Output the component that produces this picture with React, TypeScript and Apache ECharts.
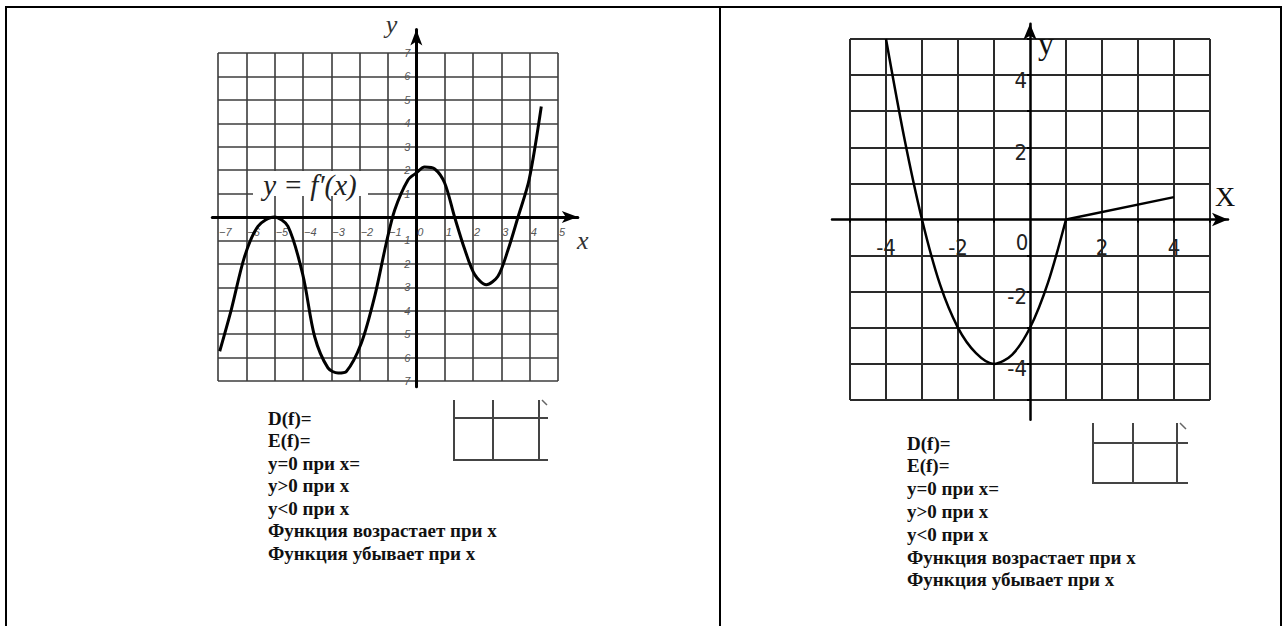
import { useEffect, useRef } from 'react';
import * as echarts from 'echarts';

// ---- Left graph: y = f'(x) ----
const derivX = [-6.94, -6.53, -6.06, -5.59, -5.02, -4.53, -4.0, -3.59, -3.12, -2.76, -2.47, -1.94, -1.47, -1.06, -0.76, -0.29, 0.0, 0.29, 0.65, 1.0, 1.35, 1.71, 2.06, 2.47, 2.88, 3.24, 3.59, 3.98, 4.41];
const derivY = [-5.73, -3.95, -1.68, -0.4, 0, -0.4, -2.5, -5.1, -6.44, -6.66, -6.59, -5.38, -3.39, -1.11, 0.31, 1.59, 1.88, 2.13, 2.05, 1.45, 0, -1.39, -2.46, -2.89, -2.53, -1.39, 0, 1.59, 4.72];
const leftXRange = [-7, 5];
const leftYRange = [-7, 7];
const leftXTicks = [-7, -6, -5, -4, -3, -2, -1, 0, 1, 2, 3, 4, 5];
const leftYTicks = [-7, -6, -5, -4, -3, -2, -1, 1, 2, 3, 4, 5, 6, 7];

// ---- Right graph: parabola part + ray ----
const parabX = [-4, -3.5, -3, -2.5, -2, -1.5, -1, -0.5, 0, 0.5, 1];
const parabY = [5, 2.3, 0, -1.8, -3, -3.7, -4, -3.75, -3, -1.75, 0];
const rayX = [1, 4];
const rayY = [0, 0.62];
const rightXRange = [-5, 5];
const rightYRange = [-5, 5];
const rightXTicks = [-4, -2, 0, 2, 4];
const rightYTicks = [-4, -2, 2, 4];
const rightTickMarks = [-5, -4, -3, -2, -1, 1, 2, 3, 4, 5];

// ---- Texts ----
const formulaLabel = 'y = f′(x)';
const questionLines = [
  'D(f)=',
  'E(f)=',
  'y=0 при x=',
  'y>0 при x',
  'y<0 при x',
  'Функция возрастает при x',
  'Функция убывает при x',
];

export default function App() {
  const ref = useRef<HTMLDivElement>(null);

  useEffect(() => {
    if (!ref.current) return;
    const chart = echarts.init(ref.current, undefined, { renderer: 'svg' });

    // layout of the left graph
    const LG = { left: 218, top: 53, width: 340, height: 328 };
    const lux = LG.width / (leftXRange[1] - leftXRange[0]);
    const luy = LG.height / (leftYRange[1] - leftYRange[0]);
    const LAX = [-7.2, 5.7];
    const LAY = [-7.25, 8];
    const LGA = {
      left: LG.left + (LAX[0] - leftXRange[0]) * lux,
      width: (LAX[1] - LAX[0]) * lux,
      top: LG.top - (LAY[1] - leftYRange[1]) * luy,
      height: (LAY[1] - LAY[0]) * luy,
    };
    // layout of the right graph
    const RG = { left: 850, top: 39, width: 360, height: 361 };
    const rux = RG.width / (rightXRange[1] - rightXRange[0]);
    const ruy = RG.height / (rightYRange[1] - rightYRange[0]);
    const RAX = [-5.5, 5.5];
    const RAY = [-5.55, 5.42];
    const RGA = {
      left: RG.left + (RAX[0] - rightXRange[0]) * rux,
      width: (RAX[1] - RAX[0]) * rux,
      top: RG.top - (RAY[1] - rightYRange[1]) * ruy,
      height: (RAY[1] - RAY[0]) * ruy,
    };

    const narrow = '"Liberation Sans Narrow", "DejaVu Sans Condensed", sans-serif';
    const serif = '"Liberation Serif", "DejaVu Serif", serif';
    const smallLabel = { color: '#555', fontSize: 11, fontStyle: 'italic', fontFamily: '"Liberation Sans", sans-serif' };

    const textGraphics: any[] = [];
    questionLines.forEach((t, i) => {
      textGraphics.push({
        type: 'text', x: 268, y: 418 + i * 22.5, z: 50,
        style: { text: t, font: `bold 19px ${serif}`, fill: '#111', verticalAlign: 'middle' },
      });
      textGraphics.push({
        type: 'text', x: 907, y: 443 + i * 22.8, z: 50,
        style: { text: t, font: `bold 19px ${serif}`, fill: '#111', verticalAlign: 'middle' },
      });
    });

    const gLine = (x1: number, y1: number, x2: number, y2: number, w = 2, c = '#000') => ({
      type: 'line', z: 50, shape: { x1, y1, x2, y2 }, style: { stroke: c, lineWidth: w },
    });

    // grid-line axes that also carry the tick labels, shifted onto the zero lines
    const gridAxis = (gridIndex: number, range: number[], color: string, width: number, offset: number, extra: any) => ({
      gridIndex, type: 'value', min: range[0], max: range[1], interval: 1, offset,
      axisLine: { show: false, onZero: false },
      axisTick: { show: false },
      splitLine: { show: true, lineStyle: { color, width } },
      ...extra,
    });

    const arrowAxis = (gridIndex: number, range: number[], width: number, size: number[], extra: any) => ({
      gridIndex, type: 'value', min: range[0], max: range[1],
      axisLine: { show: true, onZero: true, symbol: ['none', 'arrow'], symbolSize: size, lineStyle: { color: '#000', width } },
      axisTick: { show: false }, axisLabel: { show: false }, splitLine: { show: false },
      ...extra,
    });

    const option: any = {
      animation: false,
      backgroundColor: '#fff',
      grid: [
        { ...LG, outerBoundsMode: 'none' },
        { ...LGA, outerBoundsMode: 'none' },
        { ...RG, outerBoundsMode: 'none' },
        { ...RGA, outerBoundsMode: 'none' },
      ],
      xAxis: [
        gridAxis(0, leftXRange, '#3c3c3c', 1.6, -(0 - leftYRange[0]) * luy, {
          axisLabel: {
            show: true, customValues: leftXTicks, margin: 9, align: 'left', padding: [0, 0, 0, 1], ...smallLabel,
            formatter: (v: number) => (v < 0 ? '−' + -v : String(v)),
          },
        }),
        arrowAxis(1, LAX, 3, [9, 16], {
          name: 'x', nameLocation: 'end', nameGap: 5,
          nameTextStyle: { fontFamily: serif, fontStyle: 'italic', fontSize: 26, color: '#333', align: 'center', verticalAlign: 'top', padding: [10, 0, 0, 0] },
        }),
        gridAxis(2, rightXRange, '#2a2a2a', 2, -(0 - rightYRange[0]) * ruy, {
          axisTick: { show: true, customValues: rightTickMarks, length: 3, lineStyle: { color: '#000', width: 2 } },
          axisLabel: {
            show: true, customValues: rightXTicks, margin: 12, color: '#222',
            formatter: (v: number) => (v === 0 ? '{z|0}' : `{n|${v}}`),
            rich: {
              n: { fontFamily: narrow, fontSize: 22, color: '#222', padding: [5, 0, 0, 0] },
              z: { fontFamily: narrow, fontSize: 22, color: '#222', padding: [0, 16, 0, 0] },
            },
          },
        }),
        arrowAxis(3, RAX, 2.5, [10, 16], {
          name: 'X', nameLocation: 'end', nameGap: -3,
          nameTextStyle: { fontFamily: serif, fontSize: 28, color: '#111', align: 'center', verticalAlign: 'bottom', padding: [0, 0, 9, 0] },
        }),
      ],
      yAxis: [
        gridAxis(0, leftYRange, '#3c3c3c', 1.6, -(0 - leftXRange[0]) * lux, {
          axisLabel: {
            show: true, customValues: leftYTicks, margin: 6, ...smallLabel,
            formatter: (v: number) => String(Math.abs(v)),
          },
        }),
        arrowAxis(1, LAY, 3, [9, 16], {
          name: 'y', nameLocation: 'end', nameGap: 5,
          nameTextStyle: { fontFamily: serif, fontStyle: 'italic', fontSize: 26, color: '#333', align: 'right', verticalAlign: 'middle', padding: [0, 19, 0, 0] },
        }),
        gridAxis(2, rightYRange, '#2a2a2a', 2, -(0 - rightXRange[0]) * rux, {
          axisTick: { show: true, customValues: rightTickMarks, length: 3, lineStyle: { color: '#000', width: 2 } },
          axisLabel: {
            show: true, customValues: rightYTicks, margin: 3, color: '#222',
            formatter: (v: number) => `{n|${v}}`,
            rich: {
              n: { fontFamily: narrow, fontSize: 22, color: '#222', padding: [10, 0, 0, 0] },
            },
          },
        }),
        arrowAxis(3, RAY, 2.5, [10, 16], {
          name: 'y', nameLocation: 'end', nameGap: -3,
          nameTextStyle: { fontFamily: serif, fontSize: 32, color: '#111', align: 'left', verticalAlign: 'top', padding: [0, 0, 0, 8] },
        }),
      ],
      series: [
        {
          type: 'line', xAxisIndex: 0, yAxisIndex: 0, smooth: 0.3, showSymbol: false, clip: false, z: 10,
          lineStyle: { color: '#000', width: 3 },
          data: derivX.map((x, i) => [x, derivY[i]]),
        },
        {
          type: 'line', xAxisIndex: 2, yAxisIndex: 2, smooth: 0.3, showSymbol: false, clip: false, z: 10,
          lineStyle: { color: '#000', width: 2.5 },
          data: parabX.map((x, i) => [x, parabY[i]]),
        },
        {
          type: 'line', xAxisIndex: 2, yAxisIndex: 2, showSymbol: false, clip: false, z: 10,
          lineStyle: { color: '#000', width: 2.5 },
          data: rayX.map((x, i) => [x, rayY[i]]),
        },
      ],
      graphic: [
        // table borders
        gLine(5, 7, 1282, 7, 2),
        gLine(6, 6, 6, 626, 2),
        gLine(720, 6, 720, 626, 2),
        gLine(1281, 6, 1281, 626, 2),
        // formula label box
        { type: 'rect', z: 60, shape: { x: 253, y: 171, width: 115, height: 25 }, style: { fill: '#fff' } },
        {
          type: 'text', z: 61, x: 310, y: 185,
          style: { text: formulaLabel, font: `italic 29px ${serif}`, fill: '#222', align: 'center', verticalAlign: 'middle' },
        },
        // left cropped grid fragment
        gLine(454, 400, 454, 461, 2, '#444'),
        gLine(493, 400, 493, 461, 2, '#444'),
        gLine(539, 400, 539, 461, 2, '#444'),
        gLine(453, 418, 548, 418, 2, '#444'),
        gLine(453, 460, 548, 460, 2, '#444'),
        gLine(542, 400, 547, 405, 1.5, '#666'),
        // right cropped grid fragment
        gLine(1093, 423, 1093, 484, 2, '#444'),
        gLine(1133, 423, 1133, 484, 2, '#444'),
        gLine(1177, 423, 1177, 484, 2, '#444'),
        gLine(1092, 443, 1188, 443, 2, '#444'),
        gLine(1092, 483, 1188, 483, 2, '#444'),
        gLine(1180, 423, 1186, 429, 1.5, '#666'),
        ...textGraphics,
      ],
    };

    chart.setOption(option);
    return () => chart.dispose();
  }, []);

  return <div ref={ref} style={{ position: 'absolute', left: 0, top: 0, width: 1282, height: 626 }} />;
}
